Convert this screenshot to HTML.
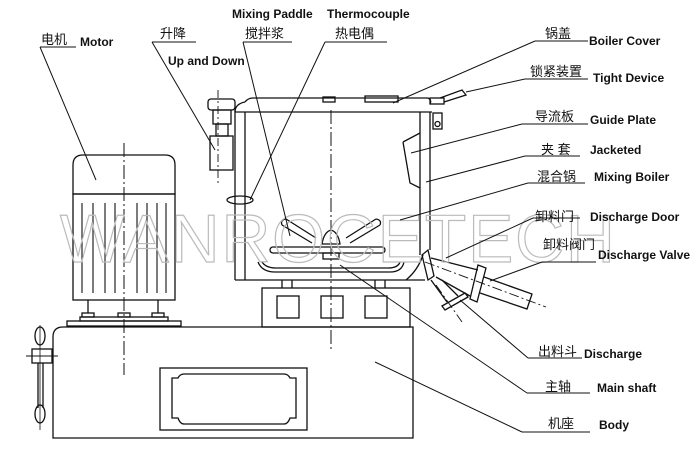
<!DOCTYPE html>
<html><head><meta charset="utf-8"><style>
html,body{margin:0;padding:0;background:#fff;}
svg{display:block;}
text{font-family:"Liberation Sans","Noto Sans CJK SC",sans-serif;fill:#111;}
.en{font-weight:bold;font-size:12px;}
.cn{font-size:13px;}
</style></head><body>
<svg width="694" height="458" viewBox="0 0 694 458" xmlns="http://www.w3.org/2000/svg">
<g fill="none" stroke="#111" stroke-width="1.3">
<!-- motor -->
<path d="M73,194 V165 Q73,155 83,155 H165 Q175,155 175,165 V194 Z"/>
<rect x="73" y="194" width="102" height="106"/>
<g stroke-width="1.1">
<line x1="82" y1="203" x2="82" y2="293"/><line x1="93" y1="203" x2="93" y2="293"/>
<line x1="105" y1="203" x2="105" y2="293"/><line x1="115" y1="203" x2="115" y2="293"/>
<line x1="137" y1="203" x2="137" y2="293"/><line x1="147" y1="203" x2="147" y2="293"/>
<line x1="157" y1="203" x2="157" y2="293"/><line x1="166" y1="203" x2="166" y2="293"/>
</g>
<line x1="88" y1="300" x2="88" y2="313"/><line x1="158" y1="300" x2="158" y2="313"/>
<rect x="82" y="313" width="12" height="4"/><rect x="118" y="313" width="12" height="4"/><rect x="152" y="313" width="12" height="4"/>
<rect x="80" y="317" width="88" height="4"/>
<rect x="67" y="321" width="114" height="5"/>
<line x1="124" y1="143" x2="124" y2="375" stroke-dasharray="14,3,2,3" stroke-width="1"/>
<!-- body -->
<path d="M53,438 V337 Q53,327 63,327 H413 V438 Z"/>
<rect x="160" y="368" width="147" height="62"/>
<path d="M172,378 H178 Q180,374 184,374 H284 Q288,374 290,378 H296 V418 H290 Q288,424 284,424 H184 Q180,424 178,418 H172 Z"/>
<!-- lever -->
<ellipse cx="40" cy="336" rx="5" ry="9"/><ellipse cx="40" cy="414" rx="5" ry="9"/>
<rect x="32" y="349" width="20" height="14"/>
<line x1="38" y1="363" x2="38" y2="408"/><line x1="43" y1="363" x2="43" y2="408"/>
<line x1="26" y1="356" x2="58" y2="356" stroke-width="1"/>
<line x1="40" y1="325" x2="40" y2="430" stroke-width="0.8"/>
<!-- base -->
<rect x="262" y="288" width="148" height="39"/>
<rect x="277" y="296" width="22" height="22"/><rect x="321" y="296" width="22" height="22"/><rect x="365" y="296" width="22" height="22"/>
<line x1="282" y1="280" x2="282" y2="288"/><line x1="292" y1="280" x2="292" y2="288"/>
<line x1="375" y1="280" x2="375" y2="288"/><line x1="385" y1="280" x2="385" y2="288"/>
<!-- boiler -->
<line x1="235" y1="110" x2="235" y2="280"/><line x1="245" y1="112" x2="245" y2="280"/>
<line x1="420" y1="112" x2="420" y2="255"/><line x1="430" y1="112" x2="430" y2="250"/>
<line x1="235" y1="280" x2="425" y2="280"/>
<path d="M245,102 Q248,98 253,98 H428 Q432,100 430,104"/>
<line x1="235" y1="112" x2="432" y2="112"/>
<path d="M235,112 Q235,104 245,102"/>
<rect x="323" y="97" width="12" height="5"/><rect x="365" y="96" width="33" height="6"/>
<!-- left mechanism -->
<rect x="208" y="99" width="27" height="11" rx="3"/>
<rect x="213" y="110" width="18" height="14"/>
<rect x="216" y="124" width="12" height="12"/>
<rect x="210" y="136" width="23" height="34"/>
<line x1="218" y1="90" x2="218" y2="185" stroke-dasharray="8,3,2,3" stroke-width="0.9"/>
<ellipse cx="240" cy="200" rx="13" ry="4"/>
<!-- tight device -->
<rect x="430" y="98" width="14" height="6"/>
<path d="M440,98 L462,90 L466,95 L444,102"/>
<rect x="433" y="113" width="9" height="16"/><circle cx="437.5" cy="124" r="2.5"/>
<!-- guide plate -->
<path d="M403,142 L420,133 M403,142 L410,183 L420,188"/>
<!-- paddle -->
<rect x="270" y="247" width="115" height="6" rx="3"/>
<path d="M322,244 Q324,232 331,230 Q338,232 340,244 Z"/>
<path d="M282,225 L312,243 M286,219 L316,238 M282,225 Q280,220 286,219"/>
<path d="M380,225 L350,243 M376,219 L346,238 M380,225 Q382,220 376,219"/>
<path d="M258,262 Q262,272 275,272 H390 Q402,272 404,262"/>
<path d="M262,262 Q266,268 276,268 H388 Q398,268 400,262"/>
<rect x="323" y="253" width="16" height="6"/>
<line x1="331" y1="110" x2="331" y2="350" stroke-dasharray="14,3,2,3" stroke-width="1"/>
<path d="M406,280 Q418,270 423,255"/>
<!-- discharge valve -->
<path d="M422,255 L428,250 L434,276 L428,280 Z"/>
<path d="M431,258 L478,270 M436,277 L470,296"/>
<path d="M478,265 L486,268 L477,302 L470,299 Z"/>
<path d="M484,277 L532,294 L527,309 L480,293"/>
<line x1="425" y1="262" x2="546" y2="307" stroke-dasharray="10,3,2,3" stroke-width="0.9"/>
<path d="M431,280 L447,302 M442,280 L458,296"/>
<path d="M442,306 L465,293 L468,297 L445,310 Z"/>
<line x1="436" y1="285" x2="462" y2="322" stroke-dasharray="10,3,2,3" stroke-width="0.9"/>
</g>
<!-- watermark -->
<text x="60" y="262" font-size="68" textLength="555" lengthAdjust="spacing" style="fill:none;stroke:#bbb;stroke-width:1.2;font-family:'Liberation Sans',sans-serif">WANROCETECH</text>
<!-- leader lines -->
<g stroke="#111" stroke-width="1" fill="none">
<polyline points="40,47 76,47"/><line x1="40" y1="47" x2="96" y2="180"/>
<polyline points="152,42 196,42"/><line x1="152" y1="42" x2="215" y2="150"/>
<polyline points="243,42 292,42"/><line x1="243" y1="42" x2="290" y2="236"/>
<polyline points="325,42 387,42"/><line x1="325" y1="42" x2="250" y2="200"/>
<polyline points="535,41 588,41"/><line x1="535" y1="41" x2="393" y2="103"/>
<polyline points="525,79 588,79"/><line x1="525" y1="79" x2="466" y2="92"/>
<polyline points="522,124 588,124"/><line x1="522" y1="124" x2="411" y2="153"/>
<polyline points="525,156 580,156"/><line x1="525" y1="156" x2="426" y2="182"/>
<polyline points="528,183 585,183"/><line x1="528" y1="183" x2="400" y2="220"/>
<polyline points="533,218 580,218"/><line x1="533" y1="218" x2="446" y2="258"/>
<polyline points="542,262 596,262"/><line x1="542" y1="262" x2="490" y2="281"/>
<polyline points="528,358 582,358"/><line x1="528" y1="358" x2="460" y2="300"/>
<polyline points="527,393 590,393"/><line x1="527" y1="393" x2="340" y2="265"/>
<polyline points="522,432 590,432"/><line x1="522" y1="432" x2="375" y2="362"/>
</g>
<!-- labels -->
<text class="cn" x="41" y="44">电机</text><text class="en" x="80" y="46">Motor</text>
<text class="cn" x="160" y="38">升降</text><text class="en" x="168" y="65">Up and Down</text>
<text class="en" x="232" y="18">Mixing Paddle</text><text class="cn" x="245" y="38">搅拌浆</text>
<text class="en" x="327" y="18">Thermocouple</text><text class="cn" x="335" y="38">热电偶</text>
<text class="cn" x="545" y="38">锅盖</text><text class="en" x="589" y="45">Boiler Cover</text>
<text class="cn" x="530" y="76">锁紧装置</text><text class="en" x="593" y="82">Tight Device</text>
<text class="cn" x="535" y="121">导流板</text><text class="en" x="590" y="124">Guide Plate</text>
<text class="cn" x="541" y="154">夹 套</text><text class="en" x="590" y="154">Jacketed</text>
<text class="cn" x="537" y="181">混合锅</text><text class="en" x="594" y="181">Mixing Boiler</text>
<text class="cn" x="535" y="221">卸料门</text><text class="en" x="590" y="221">Discharge Door</text>
<text class="cn" x="543" y="249">卸料阀门</text><text class="en" x="598" y="259">Discharge Valve</text>
<text class="cn" x="538" y="356">出料斗</text><text class="en" x="584" y="358">Discharge</text>
<text class="cn" x="545" y="391">主轴</text><text class="en" x="597" y="392">Main shaft</text>
<text class="cn" x="548" y="428">机座</text><text class="en" x="599" y="429">Body</text>
</svg>
</body></html>
